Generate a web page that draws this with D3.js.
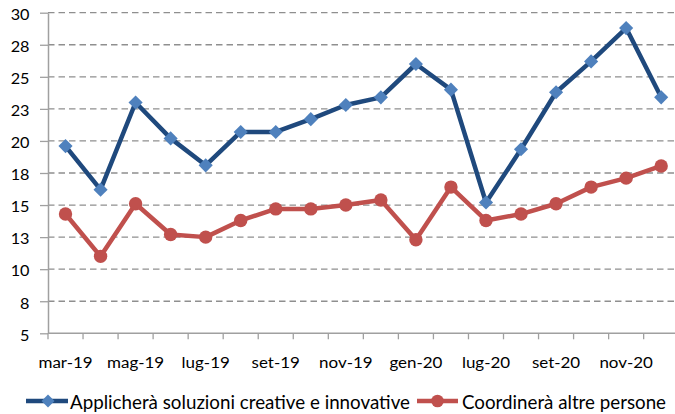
<!DOCTYPE html>
<html>
<head>
<meta charset="utf-8">
<script src="https://cdn.jsdelivr.net/npm/d3@7"></script>
<style>
  html, body { margin: 0; padding: 0; background: #ffffff; }
  svg { display: block; font-family: Lato, "Open Sans", sans-serif; }
</style>
</head>
<body>
<svg id="chart" width="675" height="414"></svg>
<script>
// ---- data ----
const categories = ["mar-19","apr-19","mag-19","giu-19","lug-19","ago-19","set-19","ott-19","nov-19","dic-19",
                    "gen-20","feb-20","lug-20","ago-20","set-20","ott-20","nov-20","dic-20"];
const creativeValues = [19.6,16.2,23.0,20.2,18.1,20.7,20.7,21.7,22.8,23.4,26.0,24.0,15.2,19.35,23.8,26.2,28.8,23.4];
const coordinateValues = [14.3,11.0,15.1,12.7,12.5,13.8,14.7,14.7,15.0,15.4,12.3,16.4,13.8,14.3,15.1,16.4,17.1,18.05];
const seriesNames = ["Applicherà soluzioni creative e innovative", "Coordinerà altre persone"];
const yTickValues = [5,7.5,10,12.5,15,17.5,20,22.5,25,27.5,30];
const yTickLabels = ["5","8","10","13","15","18","20","23","25","28","30"];

// ---- layout ----
const svg = d3.select("#chart");
const plotLeft = 48, plotRight = 678.7, plotTop = 12.7, plotBottom = 333.3;
const blue = "#1F497D", blueMarker = "#4F81BD", red = "#C0504D";
const gridColor = "#8f8f8f", axisColor = "#a0a0a0";

const x = d3.scaleBand().domain(categories).range([plotLeft, plotRight]).paddingInner(0).paddingOuter(0);
const y = d3.scaleLinear().domain([5, 30]).range([plotBottom, plotTop]);
const cx = (c) => x(c) + x.bandwidth() / 2;

// gridlines
svg.append("g").selectAll("line")
  .data(yTickValues.filter(v => v > 5))
  .join("line")
  .attr("x1", plotLeft).attr("x2", 680)
  .attr("y1", d => y(d)).attr("y2", d => y(d))
  .attr("stroke", gridColor).attr("stroke-width", 1.3)
  .attr("stroke-dasharray", "6.5,4");

// y axis
const yAxis = svg.append("g").attr("transform", `translate(${plotLeft},0)`)
  .call(d3.axisLeft(y).tickValues(yTickValues).tickFormat((d, i) => yTickLabels[i]).tickSize(8).tickSizeOuter(0));
yAxis.select(".domain").attr("stroke", axisColor).attr("stroke-width", 1.5);
yAxis.selectAll(".tick line").attr("stroke", axisColor).attr("stroke-width", 1.3);
yAxis.selectAll(".tick text")
  .attr("x", null).attr("dy", null)
  .attr("transform", "translate(-18.5,6.8) scale(1.12,1)")
  .attr("fill", "#000").attr("font-size", 14.5).attr("font-family", "Lato").attr("text-anchor", "end");

// x axis line + boundary ticks
const boundaries = categories.map(c => x(c)).concat([plotRight]);
svg.append("line").attr("x1", plotLeft).attr("x2", 680).attr("y1", plotBottom).attr("y2", plotBottom)
  .attr("stroke", axisColor).attr("stroke-width", 1.5);
svg.append("g").selectAll("line").data(boundaries).join("line")
  .attr("x1", d => d).attr("x2", d => d).attr("y1", plotBottom).attr("y2", plotBottom + 6)
  .attr("stroke", axisColor).attr("stroke-width", 1.3);

// x labels (every other category)
const xAxis = svg.append("g").attr("transform", `translate(0,${plotBottom})`)
  .call(d3.axisBottom(x).tickSize(0).tickFormat((d, i) => i % 2 === 0 ? d : ""));
xAxis.select(".domain").remove();
xAxis.selectAll(".tick text")
  .attr("y", null).attr("dy", null)
  .attr("transform", "translate(0,35) scale(1.17,1)")
  .attr("fill", "#000").attr("font-size", 14.5).attr("font-family", "Lato");

// lines
const line = d3.line().x((d, i) => cx(categories[i])).y(d => y(d));
svg.append("path").datum(creativeValues).attr("d", line)
  .attr("fill", "none").attr("stroke", blue).attr("stroke-width", 4.5).attr("stroke-linejoin", "round");
const diamond = d3.symbol(d3.symbolSquare, 100);
svg.append("g").selectAll("path").data(creativeValues).join("path")
  .attr("d", diamond)
  .attr("transform", (d, i) => `translate(${cx(categories[i])},${y(d)}) rotate(45)`)
  .attr("fill", blueMarker);

svg.append("path").datum(coordinateValues).attr("d", line)
  .attr("fill", "none").attr("stroke", red).attr("stroke-width", 4.5).attr("stroke-linejoin", "round");
svg.append("g").selectAll("circle").data(coordinateValues).join("circle")
  .attr("cx", (d, i) => cx(categories[i])).attr("cy", d => y(d)).attr("r", 6.7)
  .attr("fill", red);

// legend
const lg = svg.append("g");
lg.append("line").attr("x1", 26).attr("x2", 68).attr("y1", 401).attr("y2", 401)
  .attr("stroke", blue).attr("stroke-width", 4.5);
lg.append("path").attr("d", d3.symbol(d3.symbolSquare, 85)).attr("transform", "translate(48,401) rotate(45)")
  .attr("fill", blueMarker);
lg.append("text").attr("x", 70).attr("y", 409).text(seriesNames[0])
  .attr("font-size", 19).attr("textLength", 340).attr("lengthAdjust", "spacingAndGlyphs").attr("fill", "#000");
lg.append("line").attr("x1", 417).attr("x2", 458).attr("y1", 401).attr("y2", 401)
  .attr("stroke", red).attr("stroke-width", 4.5);
lg.append("circle").attr("cx", 437.5).attr("cy", 401).attr("r", 6.3).attr("fill", red);
lg.append("text").attr("x", 462).attr("y", 409).text(seriesNames[1])
  .attr("font-size", 19).attr("textLength", 204).attr("lengthAdjust", "spacingAndGlyphs").attr("fill", "#000");
</script>
</body>
</html>
